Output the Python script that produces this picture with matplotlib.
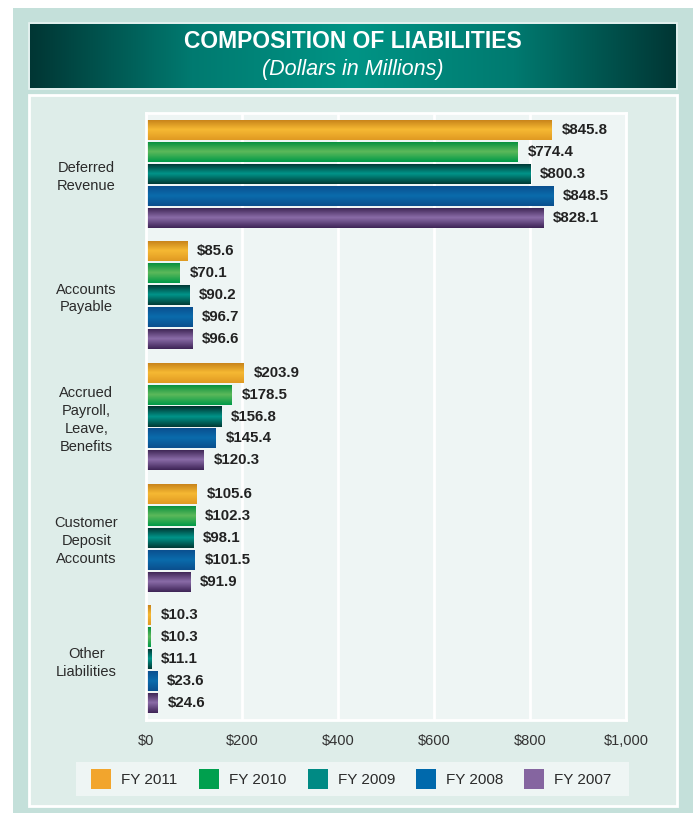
import numpy as np
import matplotlib
matplotlib.use("Agg")
import matplotlib.pyplot as plt
from matplotlib.patches import Rectangle
from matplotlib.colors import LinearSegmentedColormap

plt.rcParams['font.family'] = ['Liberation Sans', 'DejaVu Sans']

# data
categories = ["Deferred\nRevenue", "Accounts\nPayable", "Accrued\nPayroll,\nLeave,\nBenefits",
              "Customer\nDeposit\nAccounts", "Other\nLiabilities"]
years = ["FY 2011", "FY 2010", "FY 2009", "FY 2008", "FY 2007"]
fy2011 = [845.8, 85.6, 203.9, 105.6, 10.3]
fy2010 = [774.4, 70.1, 178.5, 102.3, 10.3]
fy2009 = [800.3, 90.2, 156.8, 98.1, 11.1]
fy2008 = [848.5, 96.7, 145.4, 101.5, 23.6]
fy2007 = [828.1, 96.6, 120.3, 91.9, 24.6]
series = [fy2011, fy2010, fy2009, fy2008, fy2007]
xticks = [0, 200, 400, 600, 800, 1000]
xticklabels = ["$0", "$200", "$400", "$600", "$800", "$1,000"]

# colours: legend swatch, and (top, middle, bottom) for the shaded bars
solid = ["#f2a52d", "#00a04e", "#008a84", "#0069ac", "#8565a0"]
shades = [("#c47f18", "#f6b933", "#e09a22"),
          ("#008c3c", "#5db95a", "#009a48"),
          ("#00302c", "#00958a", "#003a35"),
          ("#0b4c8c", "#0a6cac", "#0a4f8e"),
          ("#38204e", "#8a6ca8", "#3e2456")]

W, H = 695, 813
fig = plt.figure(figsize=(W / 100, H / 100), dpi=100)
fig.patch.set_facecolor("white")

# background frame drawn in pixel units
bg = fig.add_axes([0, 0, 1, 1], zorder=-1)
bg.set_xlim(0, W)
bg.set_ylim(H, 0)
bg.axis("off")
bg.add_patch(Rectangle((13, 8), 680, 805, facecolor="#c4e0da", edgecolor="none"))
bg.add_patch(Rectangle((29, 95), 648, 711, facecolor="#deede9", edgecolor="white", lw=2))

# title band with horizontal gradient
title_cmap = LinearSegmentedColormap.from_list("t", ["#003634", "#007a70", "#009485", "#007a70", "#003634"])
bg.imshow(np.linspace(0, 1, 256).reshape(1, -1), cmap=title_cmap, extent=(30, 676, 88, 24),
          aspect="auto", zorder=1)
bg.add_patch(Rectangle((29, 23), 648, 66, facecolor="none", edgecolor="#e8f3f1", lw=1.2, zorder=2))
bg.text(W / 2 + 5, 42, "COMPOSITION OF LIABILITIES", color="white", fontsize=16.5,
        fontweight="bold", ha="center", va="center", zorder=3)
bg.text(W / 2 + 5, 70, "(Dollars in Millions)", color="white", fontsize=15.5,
        fontstyle="italic", ha="center", va="center", zorder=3)

# legend box
bg.add_patch(Rectangle((76, 762), 553, 34, facecolor="#eef5f4", edgecolor="none"))
for i, (lab, c) in enumerate(zip(years, solid)):
    x0 = 91 + 108.3 * i
    bg.add_patch(Rectangle((x0, 769), 20, 20, facecolor=c, edgecolor="none"))
    bg.text(x0 + 30, 780, lab, fontsize=11, color="#2a2a2a", va="center", ha="left")

# main plot
left, right, top, bottom = 146, 626, 113, 720
ax = fig.add_axes([left / W, 1 - bottom / H, (right - left) / W, (bottom - top) / H])
ax.set_facecolor("#eef5f4")
for s in ax.spines.values():
    s.set_color("white")
    s.set_linewidth(2)

step = 0.181
height = 0.165
ypos = np.arange(len(categories))
for j, vals in enumerate(series):
    y = ypos + (j - 2) * step
    bars = ax.barh(y, vals, height=height, color="none", edgecolor="none", zorder=2)
    cmap = LinearSegmentedColormap.from_list(f"b{j}", list(shades[j]))
    for b, v in zip(bars, vals):
        # shaded fill clipped to the bar
        x0, y0 = b.get_x(), b.get_y()
        im = ax.imshow(np.linspace(0, 1, 64).reshape(-1, 1), cmap=cmap,
                       extent=(x0, x0 + b.get_width(), y0 + height, y0),
                       aspect="auto", zorder=2, interpolation="bilinear")
        im.set_clip_path(b)
        ax.annotate(f"${v:.1f}", (v, y0 + height / 2), xytext=(7, 0), textcoords="offset points",
                    va="center", ha="left", fontsize=10.8, fontweight="bold", color="#222222")

ax.set_xlim(0, 1000)
ax.set_ylim(4.5, -0.5)
ax.set_xticks(xticks)
ax.set_xticklabels(xticklabels, fontsize=10.5, color="#333333")
ax.tick_params(axis="x", length=0, pad=10)
ax.set_yticks(ypos)
ax.set_yticklabels(categories, fontsize=10.5, color="#2a2a2a", ha="center", linespacing=1.35)
ax.tick_params(axis="y", length=0, pad=43)
ax.grid(axis="x", color="white", lw=2, zorder=0)
ax.set_axisbelow(True)

fig.savefig("out.png", dpi=100)
